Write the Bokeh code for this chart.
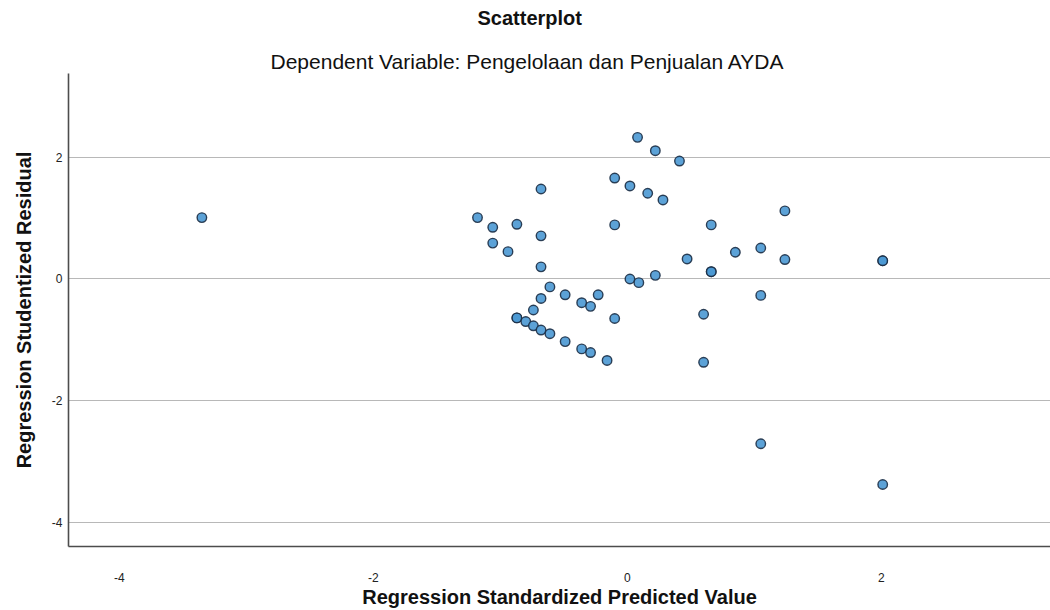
from bokeh.plotting import figure
from bokeh.models import Title, Range1d, FixedTicker, ColumnDataSource
from bokeh.embed import file_html
from bokeh.resources import INLINE

# Regression standardized predicted value (x) and studentized residual (y)
pred = [0.08, 0.22, 0.41, -0.10, 0.02, 0.16, 0.28, -0.68, -1.18, -1.06,
        -0.87, -0.68, -1.06, -0.94, -0.68, -0.10, 0.66, 1.24, 0.47, 0.85,
        1.05, 1.24, 0.66, 0.66, 0.22, 0.02, 0.09, -0.61, -0.68, -0.49,
        -0.23, -0.36, -0.29, -0.74, -0.87, -0.87, -0.80, -0.74, -0.68, -0.61,
        -0.49, -0.36, -0.29, -0.16, -0.10, 0.60, 1.05, 0.60, -3.35, 2.01,
        2.01, 1.05, 2.01]
resid = [2.33, 2.11, 1.94, 1.66, 1.53, 1.41, 1.30, 1.48, 1.01, 0.85,
         0.90, 0.71, 0.59, 0.45, 0.20, 0.89, 0.89, 1.12, 0.33, 0.44,
         0.51, 0.32, 0.12, 0.12, 0.06, 0.00, -0.06, -0.13, -0.32, -0.26,
         -0.26, -0.39, -0.45, -0.51, -0.64, -0.64, -0.70, -0.77, -0.84, -0.90,
         -1.03, -1.15, -1.21, -1.34, -0.65, -0.58, -0.27, -1.37, 1.01, 0.30,
         0.30, -2.71, -3.38]

x_ticks = [-4, -2, 0, 2]
y_ticks = [-4, -2, 0, 2]
tick_text = {-4: "-4", -2: "-2", 0: "0", 2: "2"}

title_text = "Scatterplot"
subtitle_text = "Dependent Variable: Pengelolaan dan Penjualan AYDA"
x_label = "Regression Standardized Predicted Value"
y_label = "Regression Studentized Residual"

FONT = "Liberation Sans"

p = figure(width=1050, height=610, output_backend="svg", toolbar_location=None,
           x_range=Range1d(-4.40, 3.331), y_range=Range1d(-4.40, 3.38),
           min_border_left=68, min_border_right=0, min_border_top=10,
           min_border_bottom=10, title=None)

# subtitle (closest to the frame), then main title (an empty second line
# below it opens the gap between the two)
p.add_layout(Title(text=subtitle_text, align="left", offset=202,
                   text_font=FONT, text_font_size="21px", text_font_style="normal",
                   text_color="#111111", standoff=1), "above")
p.add_layout(Title(text=title_text + "\n", align="left", offset=409,
                   text_font=FONT, text_font_size="20px", text_font_style="bold",
                   text_color="#111111", text_line_height=0.6, standoff=10), "above")

src = ColumnDataSource(dict(x=pred, y=resid))
p.scatter("x", "y", source=src, size=9.5, marker="circle",
          fill_color="#4a98d3", fill_alpha=0.9,
          line_color="#1b2d45", line_width=1.4, line_alpha=0.9)

p.outline_line_color = None
p.background_fill_color = "white"

p.xgrid.visible = False
p.ygrid.ticker = FixedTicker(ticks=y_ticks)
p.ygrid.grid_line_color = "#b8b8b8"
p.ygrid.grid_line_width = 1.2

for ax in (p.xaxis[0], p.yaxis[0]):
    ax.axis_line_color = "#4d4d4d"
    ax.axis_line_width = 1.6
    ax.major_tick_line_color = None
    ax.minor_tick_line_color = None
    ax.major_tick_out = 0
    ax.major_tick_in = 0
    ax.minor_tick_out = 0
    ax.major_label_overrides = tick_text
    ax.major_label_text_font = FONT
    ax.major_label_text_font_size = "12px"
    ax.major_label_text_color = "#222222"
    ax.axis_label_text_font = FONT
    ax.axis_label_text_font_size = "20px"
    ax.axis_label_text_font_style = "bold"
    ax.axis_label_text_color = "#111111"

p.xaxis[0].ticker = FixedTicker(ticks=x_ticks)
p.yaxis[0].ticker = FixedTicker(ticks=y_ticks)
p.xaxis[0].axis_label = x_label
p.yaxis[0].axis_label = y_label
p.xaxis[0].major_label_standoff = 26
p.xaxis[0].axis_label_standoff = 1
p.yaxis[0].major_label_standoff = 6
p.yaxis[0].axis_label_standoff = 14

open("out.html", "w").write(file_html(p, INLINE))
